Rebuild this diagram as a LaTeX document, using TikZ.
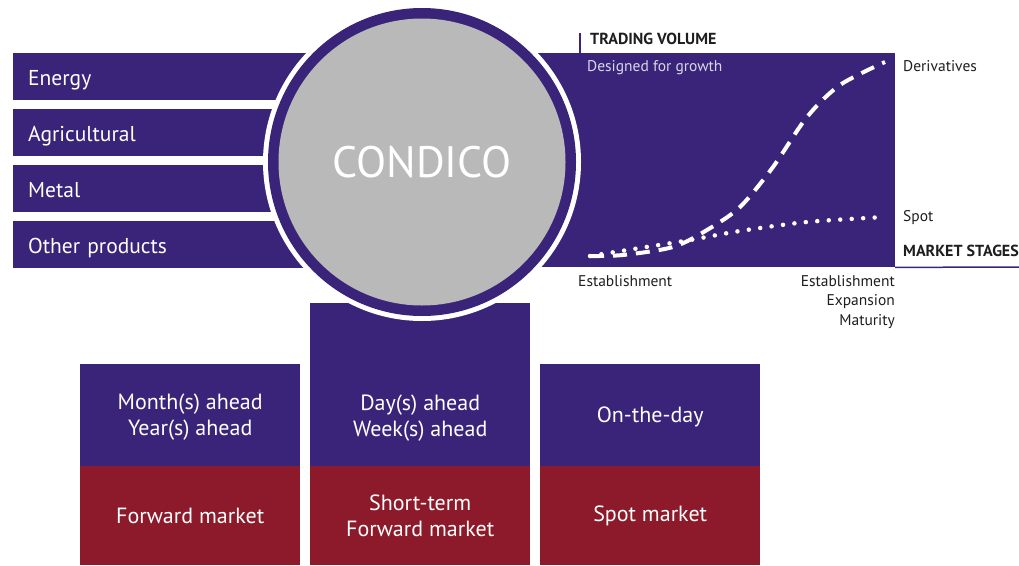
\documentclass[tikz,border=0pt]{standalone}
\usepackage{fontspec}
\setmainfont{PT Sans}
\usetikzlibrary{positioning}

\definecolor{condpurple}{RGB}{57,36,121}
\definecolor{condred}{RGB}{140,26,42}
\definecolor{condgray}{RGB}{185,185,185}
\definecolor{condlight}{RGB}{218,214,236}
\definecolor{condink}{RGB}{30,30,30}

\begin{document}
\begin{tikzpicture}[x=1pt,y=-1pt,
    bar/.style={fill=condpurple,text=white,anchor=north west,inner xsep=15pt,
      text width=310pt,align=left,minimum height=47pt,
      text height=17pt,text depth=0pt,
      font=\fontsize{21.5}{25}\selectfont},
    upperbox/.style={fill=condpurple,text=white,anchor=north west,
      minimum width=220pt,inner sep=0pt},
    lowerbox/.style={fill=condred,text=white,anchor=north west,
      minimum width=220pt,minimum height=99pt,inner sep=0pt,align=center,
      font=\fontsize{22}{26}\selectfont},
    boxtext/.style={text=white,align=center,font=\fontsize{22}{26}\selectfont},
    axislabel/.style={text=condink,font=\fontsize{15.5}{19.5}\selectfont,inner sep=0pt}]
    \useasboundingbox (0,0) rectangle (1019,565);

    % PRODUCT BARS
    \node[bar] (ENERGY) at (13,53) {Energy};
    \node[bar] (AGRI) at (13,109) {Agricultural};
    \node[bar] (METAL) at (13,165) {Metal};
    \node[bar] (OTHER) at (13,221) {Other products};

    % CHART PANEL
    \node[fill=condpurple,anchor=north east,minimum width=400pt,
      minimum height=214pt,inner sep=0pt] (CHART) at (895,53) {};
    \coordinate (YTOP) at (580,33);
    \coordinate (XEND) at (1019,267);
    \draw[condpurple,line width=1.5pt] (YTOP) -- (YTOP |- CHART.north);
    \draw[condpurple,line width=1.5pt] (CHART.south east) -- (XEND);

    \draw[white,line width=4pt,dash pattern=on 14pt off 9pt] plot[smooth]
      coordinates {(590,256) (623,255) (673,247) (707,230) (740,207)
        (773,167) (807,117) (840,85) (885,62)};
    \draw[white,line width=4.5pt,line cap=round,dash pattern=on 0pt off 11.5pt]
      plot[smooth] coordinates {(590,256) (640,248) (690,240) (740,231)
        (807,222) (885,217)};

    \node[axislabel,anchor=west,font=\fontsize{16}{19.5}\selectfont\bfseries]
      (VOLUME) at (590,39) {TRADING VOLUME};
    \node[axislabel,anchor=west,text=condlight] (GROWTH) at (587,68)
      {Designed for growth};
    \node[axislabel,anchor=west] (DERIV) at (903,66) {Derivatives};
    \node[axislabel,anchor=west] (SPOT) at (903,218) {Spot};
    \node[axislabel,anchor=west,font=\fontsize{16}{19.5}\selectfont\bfseries]
      (STAGES) at (903,251) {MARKET STAGES};
    \node[axislabel,anchor=north west] (START_STAGE) at (578,275)
      {Establishment};
    \node[axislabel,anchor=north east,align=right] (LATE_STAGE) at (895,275)
      {Establishment\\Expansion\\Maturity};

    % MARKET BOXES
    \node[upperbox,minimum height=102pt] (MONTH_BOX) at (80,364) {};
    \node[upperbox,minimum height=163pt] (DAY_BOX) at (310,303) {};
    \node[upperbox,minimum height=102pt] (ONDAY_BOX) at (540,364) {};

    \node[boxtext,yshift=-2pt] (MONTH_TXT) at (MONTH_BOX.center)
      {Month(s) ahead\\Year(s) ahead};
    \node[boxtext,yshift=48pt] (DAY_TXT) at (DAY_BOX.south)
      {Day(s) ahead\\Week(s) ahead};
    \node[boxtext,yshift=-2pt] (ONDAY_TXT) at (ONDAY_BOX.center) {On-the-day};

    \node[lowerbox] (FORWARD) at (80,466) {Forward market};
    \node[lowerbox] (SHORT) at (310,466) {Short-term\\Forward market};
    \node[lowerbox] (SPOTMKT) at (540,466) {Spot market};

    % CIRCLE
    \node[circle,fill=white,minimum size=318pt,inner sep=0pt] (RIM) at (422,162) {};
    \node[circle,fill=condpurple,minimum size=308pt,inner sep=0pt] (RING) at (RIM.center) {};
    \node[circle,fill=condgray,minimum size=287pt,inner sep=0pt,text=white,
      font=\fontsize{44}{48}\selectfont] (CONDICO) at (RIM.center) {CONDICO};
  \end{tikzpicture}
\end{document}
